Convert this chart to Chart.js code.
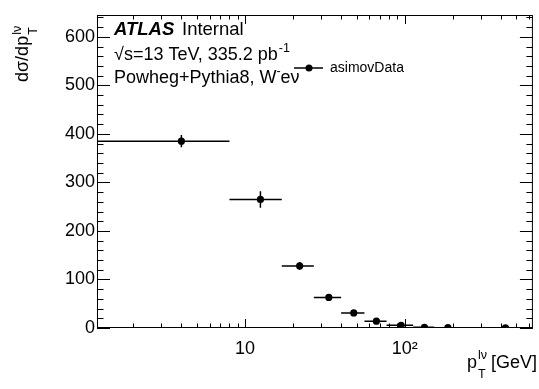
<!DOCTYPE html>
<html>
<head>
<meta charset="utf-8">
<script src="https://cdn.jsdelivr.net/npm/chart.js@4.4.1/dist/chart.umd.min.js"></script>
<style>
  html, body { margin: 0; padding: 0; background: #fff; }
</style>
</head>
<body>
<canvas id="graph" width="539" height="389"></canvas>
<script>
// bins of p_T^lv [GeV] and the asimov data points
const binLow = [0, 8, 17, 27, 40, 56, 77, 113, 153, 220]
const binHigh = [8, 17, 27, 40, 56, 77, 113, 153, 220, 635]
const binCenter = [4, 12.5, 22, 33.5, 48, 66.5, 95, 133, 186.5, 427.5]
const values = [385, 265, 128, 63, 31, 14, 5.5, 1.4, 0.6, 0.15]
const errors = [12.5, 17, 8, 5, 3, 2, 1.5, 0.6, 0.3, 0.1]

const yTicks = [0, 100, 200, 300, 400, 500, 600]
const xTicks = [2, 3, 4, 5, 6, 7, 8, 9, 10, 20, 30, 40, 50, 60, 70, 80, 90, 100, 200, 300, 400, 500, 600]
const xMajor = [10, 100]
const xLabels = { 10: '10', 100: '10²' }

const FONT = '"Liberation Sans", Arial, Helvetica, sans-serif'

const rootFrame = {
  id: 'rootFrame',
  beforeDatasetsDraw(chart) {
    const { ctx, chartArea: a, scales: { x, y } } = chart
    ctx.save()
    ctx.beginPath()
    ctx.rect(a.left, a.top, a.right - a.left, a.bottom - a.top)
    ctx.clip()
    ctx.strokeStyle = '#000'
    ctx.lineWidth = 1.5
    ctx.beginPath()
    values.forEach((v, i) => {
      const py = y.getPixelForValue(v)
      const x0 = binLow[i] > 0 ? x.getPixelForValue(binLow[i]) : a.left
      ctx.moveTo(x0, py)
      ctx.lineTo(x.getPixelForValue(binHigh[i]), py)
      const px = x.getPixelForValue(binCenter[i])
      ctx.moveTo(px, y.getPixelForValue(v - errors[i]))
      ctx.lineTo(px, y.getPixelForValue(v + errors[i]))
    })
    ctx.stroke()
    ctx.restore()
  },
  afterDraw(chart) {
    const { ctx, chartArea: a, scales: { x, y } } = chart
    ctx.save()
    ctx.strokeStyle = '#000'
    ctx.lineWidth = 1
    ctx.strokeRect(a.left + 0.5, a.top + 0.5, a.right - a.left - 1, a.bottom - a.top - 1)

    // ticks inside the frame, ROOT style, on all four sides
    ctx.beginPath()
    for (let v = 0; v <= 640; v += 20) {
      const py = Math.round(y.getPixelForValue(v)) + 0.5
      const len = v % 100 === 0 ? 13 : 6.5
      ctx.moveTo(a.left, py); ctx.lineTo(a.left + len, py)
      ctx.moveTo(a.right, py); ctx.lineTo(a.right - len, py)
    }
    xTicks.forEach(v => {
      const px = Math.round(x.getPixelForValue(v)) + 0.5
      const len = xMajor.includes(v) ? 9 : 4.5
      ctx.moveTo(px, a.bottom); ctx.lineTo(px, a.bottom - len)
      ctx.moveTo(px, a.top); ctx.lineTo(px, a.top + len)
    })
    ctx.stroke()

    ctx.fillStyle = '#000'
    ctx.textBaseline = 'alphabetic'
    ctx.textAlign = 'left'

    // ATLAS label
    ctx.font = 'italic bold 18.5px ' + FONT
    ctx.fillText('ATLAS', 114, 35)
    ctx.font = '18.5px ' + FONT
    ctx.fillText('Internal', 182, 35)

    ctx.font = '18px ' + FONT
    const l1 = '√s=13 TeV, 335.2 pb'
    ctx.fillText(l1, 114, 60)
    let w = ctx.measureText(l1).width
    ctx.font = '12.5px ' + FONT
    ctx.fillText('-1', 114 + w + 1, 52)

    ctx.font = '18px ' + FONT
    const l2 = 'Powheg+Pythia8, W'
    ctx.fillText(l2, 114, 83)
    w = ctx.measureText(l2).width
    ctx.font = '12.5px ' + FONT
    ctx.fillText('-', 114 + w, 75)
    ctx.font = '18px ' + FONT
    ctx.fillText('eν', 114 + w + 4, 83)

    // legend
    ctx.lineWidth = 1.5
    ctx.beginPath()
    ctx.moveTo(294, 68); ctx.lineTo(323, 68)
    ctx.stroke()
    ctx.beginPath()
    ctx.arc(309, 68, 3.5, 0, Math.PI * 2)
    ctx.fill()
    ctx.font = '14px ' + FONT
    ctx.textBaseline = 'middle'
    ctx.fillText('asimovData', 330, 68)

    // x title
    ctx.textBaseline = 'alphabetic'
    ctx.font = '18px ' + FONT
    const gev = ' [GeV]'
    const gw = ctx.measureText(gev).width
    const pw = ctx.measureText('p').width
    ctx.font = '12.5px ' + FONT
    const sw = Math.max(ctx.measureText('lν').width, ctx.measureText('T').width)
    const xs = 537 - gw - sw - pw
    ctx.font = '18px ' + FONT
    ctx.fillText('p', xs, 368)
    ctx.font = '12.5px ' + FONT
    ctx.fillText('lν', xs + pw + 1, 359)
    ctx.fillText('T', xs + pw + 1, 378)
    ctx.font = '18px ' + FONT
    ctx.fillText(gev, xs + pw + sw, 368)

    // y title, rotated
    ctx.translate(28, 82)
    ctx.rotate(-Math.PI / 2)
    ctx.font = '18px ' + FONT
    const yt = 'dσ/dp'
    ctx.fillText(yt, 0, 0)
    const yw = ctx.measureText(yt).width
    ctx.font = '12.5px ' + FONT
    ctx.fillText('lν', yw + 1, -7)
    ctx.fillText('T', yw + 1, 9)
    ctx.restore()
  }
}

new Chart(document.getElementById('graph'), {
  type: 'scatter',
  plugins: [rootFrame],
  data: {
    datasets: [
      {
        label: 'asimovData',
        data: binCenter.map((c, i) => ({ x: c, y: values[i] })),
        pointRadius: 3.6,
        pointBackgroundColor: '#000',
        pointBorderColor: '#000',
        pointBorderWidth: 0,
        showLine: false
      }
    ]
  },
  options: {
    responsive: false,
    animation: false,
    layout: { padding: { top: 15, right: 1, left: 0, bottom: 0 } },
    plugins: {
      legend: { display: false },
      tooltip: { enabled: false }
    },
    scales: {
      x: {
        type: 'logarithmic',
        min: 1.185,
        max: 635,
        grid: { display: false, drawTicks: false },
        border: { display: false },
        afterBuildTicks: s => { s.ticks = xTicks.map(v => ({ value: v })) },
        afterFit: s => { s.height = 61 },
        ticks: {
          autoSkip: false,
          maxRotation: 0,
          padding: 10,
          color: '#000',
          font: { family: FONT, size: 18 },
          callback: v => xLabels[v] || ''
        }
      },
      y: {
        min: 0,
        max: 645,
        grid: { display: false, drawTicks: false },
        border: { display: false },
        afterBuildTicks: s => { s.ticks = yTicks.map(v => ({ value: v })) },
        afterFit: s => { s.width = 97 },
        ticks: {
          padding: 2,
          color: '#000',
          font: { family: FONT, size: 18 },
          callback: v => String(v)
        }
      }
    }
  }
})
</script>
</body>
</html>
